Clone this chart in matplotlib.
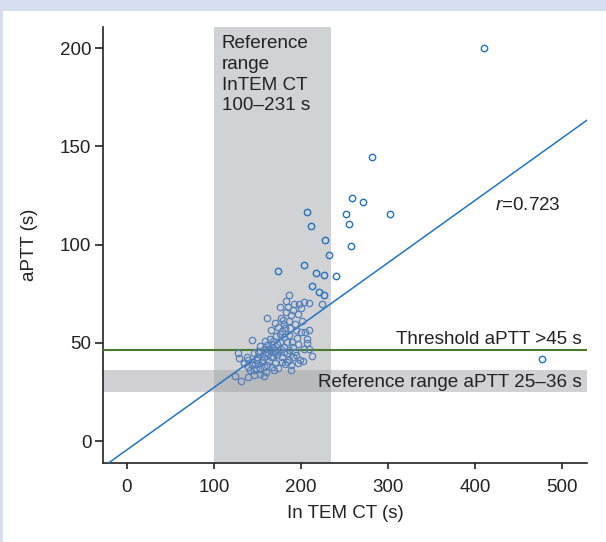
import numpy as np
import matplotlib
matplotlib.use("Agg")
import matplotlib.pyplot as plt
from matplotlib.patches import Rectangle

plt.rcParams["font.family"] = ["Liberation Sans", "DejaVu Sans"]
plt.rcParams["mathtext.fontset"] = "custom"
plt.rcParams["mathtext.rm"] = "Liberation Sans"
plt.rcParams["mathtext.it"] = "Liberation Sans:italic"

# outliers (upper right of the cluster)
out_x = [410, 281, 259, 271, 207, 252, 302, 211, 255, 228, 257, 477,
         232.6, 174, 203, 217, 226.5, 240, 213, 221, 226.5]
out_y = [200, 144.6, 123.6, 121.6, 116.5, 115.6, 115.6, 109.5, 110.5, 102.6, 99.5, 41.7,
         94.6, 86.6, 89.5, 85.6, 84.6, 83.8, 78.7, 75.8, 74.6]

# main cluster inside the InTEM reference range
clu_x = [186, 176, 192.4, 197.8, 203.5, 209.6, 223.8, 200, 196.3, 191, 182.6, 160.7,
         176.8, 186.7, 181, 187.5, 193, 201.6, 200, 165.3, 178, 171.1, 195.2, 143.5,
         206.7, 203.5, 209.3, 190.5, 180, 185.7, 172.2, 166.5, 162.6, 157, 151, 145.5,
         127.4, 129.3, 137.8, 178, 191.3, 199, 196, 188.6, 181.8, 170.3, 163.8, 155.7,
         149.2, 143.5, 139.6, 148.5, 157, 160, 169, 153, 145.5, 157, 130.9, 124.5,
         139, 160.7, 164.5, 168.4, 174.1, 176, 170.3, 183.7, 157, 149.2, 153, 180,
         183.7, 174, 185.7, 164.5, 139.6, 134, 151, 160.7, 174, 166.5, 145.5, 152.4,
         178, 185.7, 168.4, 162.6, 153, 158.8, 180, 189.4, 193.2, 197.1, 204.7, 209.6,
         194.7, 189, 185, 183.3, 179, 170.3, 176, 181.8, 168.4, 213, 207, 202, 188,
         172, 166, 155, 147, 141, 135, 159, 171, 184, 194, 177]
clu_y = [74.6, 68.5, 69.8, 70, 70.7, 70.3, 69.8, 67.8, 64.9, 66.6, 65.6, 62.6,
         62.6, 60.9, 59.5, 57.8, 59.5, 60.9, 55.4, 56.3, 55.8, 53.4, 52.7, 51.5,
         49.8, 46.9, 46.9, 48, 48, 46.3, 49.2, 49.5, 47.1, 47, 45.8, 44.6,
         44.6, 42.4, 42.9, 42.9, 42.7, 41.2, 39.5, 38.5, 39, 39.5, 40.7, 40.2,
         41.2, 38.7, 37.5, 37, 37.5, 35.3, 36, 34.4, 33.6, 33, 30.7, 33,
         32.8, 48.8, 46.3, 47.6, 46.6, 50.5, 44.6, 44.6, 42.9, 43, 48.3, 52.8,
         50.5, 58.1, 54, 52, 41.2, 39.5, 39.5, 38.7, 37, 37.8, 36.2, 36.6,
         40.3, 41.2, 42.9, 44.2, 45.4, 44.9, 45.3, 50.4, 45.3, 49.5, 55.5, 56.3,
         56.3, 64, 68.2, 71.2, 61.5, 59.9, 54.5, 57.4, 51, 43.5, 52, 41, 36,
         44, 43, 41.5, 39, 36, 40, 51, 46, 40.5, 43.8, 47]

# linear fit
fit_slope = 0.3176
fit_intercept = -4.47

threshold = 46.5
ref_aptt = (25, 36)
ref_ct = (100, 234)

fig = plt.figure(figsize=(6.06, 5.42), dpi=100)
fig.patch.set_facecolor("#d5deef")
fig.patches.append(Rectangle((3 / 606, 0), 1, 1 - 11 / 542, transform=fig.transFigure,
                             facecolor="white", edgecolor="none", zorder=-1))

ax = fig.add_axes([103.3 / 606, 1 - 463.3 / 542, (586.7 - 103.3) / 606, (463.3 - 27.3) / 542])
ax.set_facecolor("none")
ax.set_xlim(-27, 528)
ax.set_ylim(-11.3, 210.6)

ax.axvspan(*ref_ct, color="#d1d2d4", lw=0, zorder=1)
ax.axhspan(*ref_aptt, color="#9fa0a3", alpha=0.48, lw=0, zorder=2)
ax.axhline(threshold, color="#4a7a2c", lw=1.5, zorder=3)

xs = np.array(ax.get_xlim())
ax.plot(xs, fit_slope * xs + fit_intercept, color="#1f74c4", lw=1.1, zorder=4)

ax.plot(clu_x, clu_y, "o", ms=4.6, mfc="none", mec="#5580ba", mew=0.9, zorder=5)
ax.plot(out_x, out_y, "o", ms=4.6, mfc="none", mec="#2472c0", mew=1.0, zorder=5)

fs = 13.6
ax.text(109, 206.5, "Reference\nrange\nInTEM CT\n100\u2013231 s", fontsize=fs,
        va="top", ha="left", linespacing=1.28, color="#222222", zorder=6)
ax.text(423, 119.7, r"$r$=0.723", fontsize=fs, va="center", ha="left", color="#222222", zorder=6)
ax.text(522, 49.3, "Threshold aPTT >45 s", fontsize=fs, va="baseline", ha="right",
        color="#222222", zorder=6)
ax.text(522, 27.3, "Reference range aPTT 25\u201336 s", fontsize=fs, va="baseline", ha="right",
        color="#222222", zorder=6)

for s in ["top", "right"]:
    ax.spines[s].set_visible(False)
for s in ["left", "bottom"]:
    ax.spines[s].set_color("#222222")
    ax.spines[s].set_linewidth(1.2)

ax.set_xticks([0, 100, 200, 300, 400, 500])
ax.set_yticks([0, 50, 100, 150, 200])
ax.tick_params(axis="x", length=4.5, width=1.2, pad=7, labelsize=13.5, colors="#222222")
ax.tick_params(axis="y", length=5.5, width=1.2, pad=3, labelsize=13.5, colors="#222222")

ax.set_xlabel("In TEM CT (s)", fontsize=13.5, color="#222222", labelpad=6)
ax.set_ylabel("aPTT (s)", fontsize=13.5, color="#222222", labelpad=16)

fig.savefig("out.png", dpi=100, facecolor=fig.get_facecolor())
